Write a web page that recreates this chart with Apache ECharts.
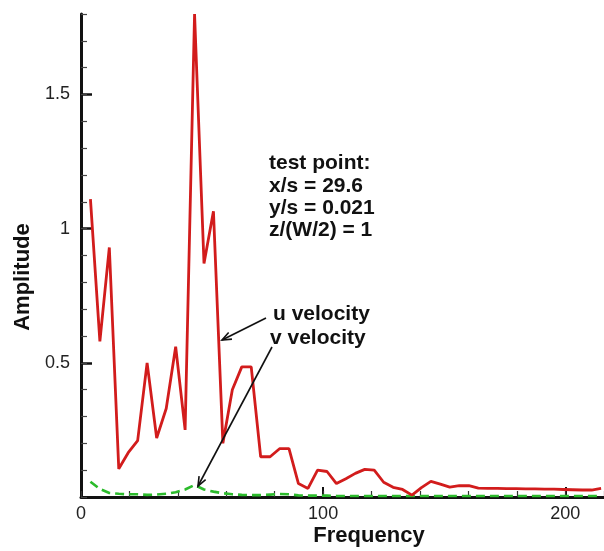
<!DOCTYPE html>
<html>
<head>
<meta charset="utf-8">
<script src="https://cdn.jsdelivr.net/npm/echarts@6/dist/echarts.min.js"></script>
<style>
  html, body { margin: 0; padding: 0; background: #fff; }
  #chart { width: 604px; height: 551px; }
</style>
</head>
<body>
<div id="chart"></div>
<script>
// Spectrum bins (Hz)
const frequency = [
  3.9, 7.8, 11.7, 15.6, 19.5, 23.4, 27.3, 31.25, 35.2, 39.1,
  43.0, 46.9, 50.8, 54.7, 58.6, 62.5, 66.4, 70.3, 74.2, 78.1,
  82.0, 85.9, 89.8, 93.75, 97.7, 101.6, 105.5, 109.4, 113.3, 117.2,
  121.1, 125.0, 128.9, 132.8, 136.7, 140.6, 144.5, 148.4, 152.3, 156.25,
  160.2, 164.1, 168.0, 171.9, 175.8, 179.7, 183.6, 187.5, 191.4, 195.3,
  199.2, 203.1, 207.0, 210.9, 214.8
];

// u velocity amplitude
const uAmplitude = [
  1.11, 0.58, 0.93, 0.105, 0.165, 0.21, 0.50, 0.22, 0.33, 0.56,
  0.25, 1.80, 0.87, 1.065, 0.20, 0.40, 0.485, 0.485, 0.15, 0.15,
  0.18, 0.18, 0.05, 0.032, 0.10, 0.095, 0.05, 0.068, 0.088, 0.103,
  0.10, 0.055, 0.036, 0.028, 0.007, 0.035, 0.058, 0.048, 0.037, 0.042,
  0.042, 0.033, 0.032, 0.032, 0.031, 0.031, 0.030, 0.030, 0.029, 0.029,
  0.028, 0.027, 0.026, 0.026, 0.032
];

// v velocity amplitude
const vAmplitude = [
  0.057, 0.030, 0.015, 0.012, 0.010, 0.010, 0.008, 0.009, 0.012, 0.018,
  0.028, 0.045, 0.028, 0.020, 0.014, 0.010, 0.008, 0.007, 0.007, 0.009,
  0.011, 0.010, 0.006, 0.005, 0.005, 0.005, 0.004, 0.004, 0.004, 0.004,
  0.004, 0.004, 0.004, 0.004, 0.004, 0.004, 0.004, 0.004, 0.004, 0.004,
  0.004, 0.004, 0.004, 0.004, 0.004, 0.004, 0.004, 0.004, 0.004, 0.004,
  0.004, 0.004, 0.004, 0.004, 0.004
];

const xMajorTicks = [0, 100, 200];
const yMajorTicks = [0, 0.5, 1, 1.5];
const yTickLabels = [0.5, 1, 1.5];

const annotationLines = ['test point:', 'x/s = 29.6', 'y/s = 0.021', 'z/(W/2) = 1'];
const seriesNames = ['u velocity', 'v velocity'];

const FONT = "'Liberation Sans', Arial, sans-serif";
const X_MAX = 216, Y_MAX = 1.8;

function pairs(xs, ys) { return xs.map((x, i) => [x, ys[i]]); }

// open V arrowhead at the end of a leader line
function arrow(x1, y1, x2, y2) {
  const ang = Math.atan2(y2 - y1, x2 - x1);
  const len = 10, spread = 0.38;
  const a = [x2 - len * Math.cos(ang - spread), y2 - len * Math.sin(ang - spread)];
  const b = [x2 - len * Math.cos(ang + spread), y2 - len * Math.sin(ang + spread)];
  const st = { stroke: '#111', lineWidth: 1.6, fill: null };
  return [
    { type: 'line', shape: { x1, y1, x2, y2 }, style: st, z: 50 },
    { type: 'polyline', shape: { points: [a, [x2, y2], b] }, style: st, z: 50 }
  ];
}

const textStyle = (txt, x, y, extra) => Object.assign({
  type: 'text', x, y, z: 50,
  style: { text: txt, font: 'bold 21px ' + FONT, fill: '#111', textVerticalAlign: 'middle' }
}, extra || {});

const chart = echarts.init(document.getElementById('chart'), null, { renderer: 'canvas' });

const annY = [163, 186, 208.5, 230.5];
const graphics = [];
annotationLines.forEach((t, i) => graphics.push(textStyle(t, 269, annY[i])));
graphics.push(textStyle(seriesNames[0], 273, 314.5));
graphics.push(textStyle(seriesNames[1], 270, 338));
graphics.push(...arrow(266, 318, 222, 340));
graphics.push(...arrow(272, 347, 198, 486));
graphics.push({
  type: 'text', x: 369, y: 536, z: 50,
  style: { text: 'Frequency', font: 'bold 22px ' + FONT, fill: '#111', textAlign: 'center', textVerticalAlign: 'middle' }
});
graphics.push({
  type: 'text', x: 23, y: 277, rotation: Math.PI / 2, z: 50,
  style: { text: 'Amplitude', font: 'bold 22px ' + FONT, fill: '#111', textAlign: 'center', textVerticalAlign: 'middle' }
});

chart.setOption({
  animation: false,
  backgroundColor: '#ffffff',
  grid: { left: 81, right: 0, top: 14, bottom: 54, containLabel: false },
  xAxis: [
    {
      type: 'value', min: 0, max: X_MAX, position: 'bottom',
      axisLine: { show: true, onZero: false, lineStyle: { color: '#111', width: 3 } },
      axisTick: { show: true, inside: true, length: 10, customValues: xMajorTicks, lineStyle: { color: '#111', width: 2 } },
      axisLabel: { show: true, customValues: xMajorTicks, margin: 8, color: '#222', fontSize: 18, fontFamily: FONT },
      splitLine: { show: false }
    },
    {
      type: 'value', min: 0, max: X_MAX, interval: 20, position: 'bottom',
      axisLine: { show: false, onZero: false },
      axisTick: { show: true, inside: true, length: 6, lineStyle: { color: '#333', width: 1.2 } },
      axisLabel: { show: false },
      splitLine: { show: false }
    }
  ],
  yAxis: [
    {
      type: 'value', min: 0, max: Y_MAX, position: 'left',
      axisLine: { show: true, onZero: false, lineStyle: { color: '#111', width: 3 } },
      axisTick: { show: true, inside: true, length: 11, customValues: yMajorTicks, lineStyle: { color: '#111', width: 2.5 } },
      axisLabel: { show: true, customValues: yTickLabels, margin: 11, color: '#222', fontSize: 18, fontFamily: FONT },
      splitLine: { show: false }
    },
    {
      type: 'value', min: 0, max: Y_MAX, interval: 0.1, position: 'left',
      axisLine: { show: false, onZero: false },
      axisTick: { show: true, inside: true, length: 6, lineStyle: { color: '#444', width: 1.2 } },
      axisLabel: { show: false },
      splitLine: { show: false }
    }
  ],
  series: [
    {
      name: seriesNames[0], type: 'line', xAxisIndex: 0, yAxisIndex: 0,
      data: pairs(frequency, uAmplitude),
      showSymbol: false, symbol: 'none', clip: true,
      lineStyle: { color: '#d21c1c', width: 2.8 }, z: 5
    },
    {
      name: seriesNames[1], type: 'line', xAxisIndex: 0, yAxisIndex: 0,
      data: pairs(frequency, vAmplitude),
      showSymbol: false, symbol: 'none', clip: true,
      lineStyle: { color: '#2cbb2c', width: 2.6, type: [9, 5] }, z: 4
    }
  ],
  graphic: graphics
});
</script>
</body>
</html>
